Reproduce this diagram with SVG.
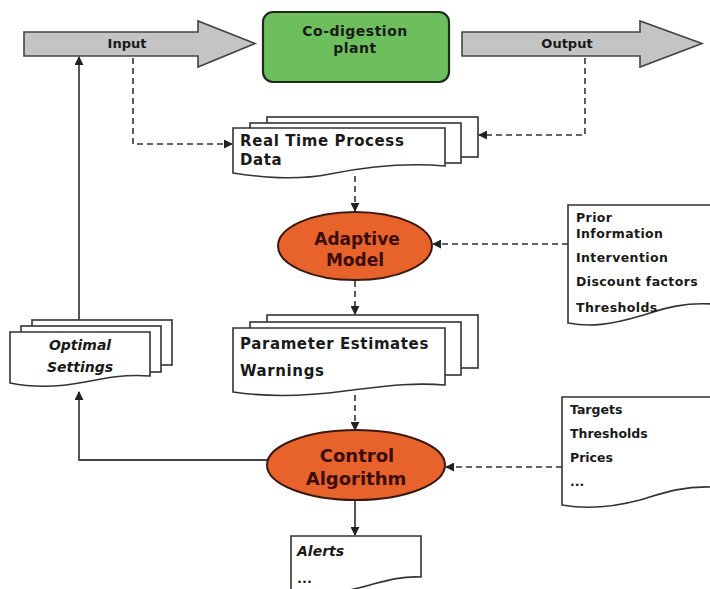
<svg xmlns="http://www.w3.org/2000/svg" width="710" height="589" viewBox="0 0 710 589">
  <defs>
    <marker id="arrow" viewBox="0 0 10 10" refX="9" refY="5" markerWidth="9" markerHeight="9" markerUnits="userSpaceOnUse" orient="auto">
      <path d="M0,0 L10,5 L0,10 z" fill="#222"/>
    </marker>
    <style>
      .flow { fill: #c4c4c4; stroke: #444; stroke-width: 1.6; }
      .doc { fill: #fff; stroke: #333; stroke-width: 1.6; }
      .lbl { font-family: "DejaVu Sans", Verdana, sans-serif; font-weight: bold; fill: #1a1a1a; }
      .wide { letter-spacing: 0.6px; }
      .ell { fill: #e8622c; stroke: #3a1a10; stroke-width: 2; }
      .elltxt { font-family: "DejaVu Sans", Verdana, sans-serif; font-weight: bold; fill: #3b0e0e; text-anchor: middle; }
      .dash { fill: none; stroke: #333; stroke-width: 1.6; stroke-dasharray: 6 4; marker-end: url(#arrow); }
      .solid { fill: none; stroke: #444; stroke-width: 1.8; marker-end: url(#arrow); }
    </style>
  </defs>
  <rect width="710" height="589" fill="#fff"/>

  <!-- Input flow arrow -->
  <g id="input">
    <path class="flow" d="M24,32 H198 V21 L255,43.5 L198,67 V56 H24 Z"/>
    <text class="lbl" x="127" y="48" font-size="13" text-anchor="middle">Input</text>
  </g>

  <!-- Plant -->
  <g id="plant">
    <rect x="263" y="12" width="186" height="70" rx="10" fill="#6dbf5e" stroke="#1f2a1f" stroke-width="2.2"/>
    <text class="lbl" x="355" y="36" font-size="14" text-anchor="middle" letter-spacing="0.5">Co-digestion</text>
    <text class="lbl" x="355" y="53" font-size="14" text-anchor="middle" letter-spacing="0.5">plant</text>
  </g>

  <!-- Output flow arrow -->
  <g id="output">
    <path class="flow" d="M462,32 H640 V21 L702,43.5 L640,67 V56 H462 Z"/>
    <text class="lbl" x="567" y="48" font-size="13" text-anchor="middle">Output</text>
  </g>

  <!-- Real time process data (stacked documents) -->
  <g id="realtime">
    <rect class="doc" x="267" y="117" width="211" height="40"/>
    <rect class="doc" x="250" y="123" width="211" height="40"/>
    <path class="doc" d="M233,128 H445 V166 C400,162 360,168 330,174 C295,181 260,177 233,173 Z"/>
    <text class="lbl wide" x="240" y="146" font-size="15">Real Time Process</text>
    <text class="lbl wide" x="240" y="165" font-size="15">Data</text>
  </g>

  <!-- Adaptive model -->
  <g id="adaptive">
    <ellipse class="ell" cx="355" cy="246" rx="77" ry="34"/>
    <text class="elltxt" x="357" y="245" font-size="17">Adaptive</text>
    <text class="elltxt" x="355" y="266" font-size="17">Model</text>
  </g>

  <!-- Prior information -->
  <g id="prior">
    <path class="doc" d="M568,205 H712 V304 C680,302 660,310 640,316 C610,325 590,327 568,323 Z"/>
    <text class="lbl" x="576" y="222" font-size="12.5" letter-spacing="0.4">Prior</text>
    <text class="lbl" x="576" y="238" font-size="12.5" letter-spacing="0.4">Information</text>
    <text class="lbl" x="576" y="262" font-size="12.5" letter-spacing="0.4">Intervention</text>
    <text class="lbl" x="576" y="286" font-size="12.5" letter-spacing="0.4">Discount factors</text>
    <text class="lbl" x="576" y="312" font-size="12.5" letter-spacing="0.4">Thresholds</text>
  </g>

  <!-- Parameter estimates (stacked documents) -->
  <g id="params">
    <rect class="doc" x="267" y="315" width="211" height="53"/>
    <rect class="doc" x="250" y="322" width="211" height="53"/>
    <path class="doc" d="M233,328 H445 V385 C410,382 380,387 345,391 C300,397 260,396 233,392 Z"/>
    <text class="lbl wide" x="240" y="349" font-size="15">Parameter Estimates</text>
    <text class="lbl wide" x="240" y="376" font-size="15">Warnings</text>
  </g>

  <!-- Optimal settings (stacked documents) -->
  <g id="optimal">
    <rect class="doc" x="32" y="320" width="140" height="45"/>
    <rect class="doc" x="21" y="326" width="140" height="46"/>
    <path class="doc" d="M10,332 H150 V376 C125,374 105,378 85,382 C55,388 30,387 10,383 Z"/>
    <text class="lbl" x="80" y="350" font-size="14" font-style="italic" text-anchor="middle">Optimal</text>
    <text class="lbl" x="80" y="372" font-size="14" font-style="italic" text-anchor="middle">Settings</text>
  </g>

  <!-- Control algorithm -->
  <g id="control">
    <ellipse class="ell" cx="356" cy="465" rx="89" ry="35"/>
    <text class="elltxt" x="357" y="462" font-size="18">Control</text>
    <text class="elltxt" x="356" y="485" font-size="18">Algorithm</text>
  </g>

  <!-- Targets -->
  <g id="targets">
    <path class="doc" d="M562,397 H712 V487 C680,486 660,494 640,500 C610,508 585,509 562,505 Z"/>
    <text class="lbl" x="570" y="414" font-size="12.5">Targets</text>
    <text class="lbl" x="570" y="438" font-size="12.5">Thresholds</text>
    <text class="lbl" x="570" y="462" font-size="12.5">Prices</text>
    <text class="lbl" x="570" y="486" font-size="12.5">...</text>
  </g>

  <!-- Alerts -->
  <g id="alerts">
    <path class="doc" d="M291,595 V536 H421 V577 C400,576 385,581 370,585 C345,592 315,596 291,595 Z"/>
    <text class="lbl" x="297" y="556" font-size="14" font-style="italic">Alerts</text>
    <text class="lbl" x="297" y="583" font-size="13">...</text>
  </g>

  <!-- Connectors -->
  <g id="connectors">
    <path class="dash" d="M133,58 V144 H232"/>
    <path class="dash" d="M585,58 V135 H479"/>
    <path class="dash" d="M355,176 V211"/>
    <path class="dash" d="M568,244 H433"/>
    <path class="dash" d="M355,281 V314"/>
    <path class="dash" d="M355,395 V430"/>
    <path class="dash" d="M562,467 H446"/>
    <path class="solid" d="M267,460 H79 V392"/>
    <path class="solid" d="M79,320 V57"/>
    <path class="solid" d="M355,501 V535"/>
  </g>
</svg>
